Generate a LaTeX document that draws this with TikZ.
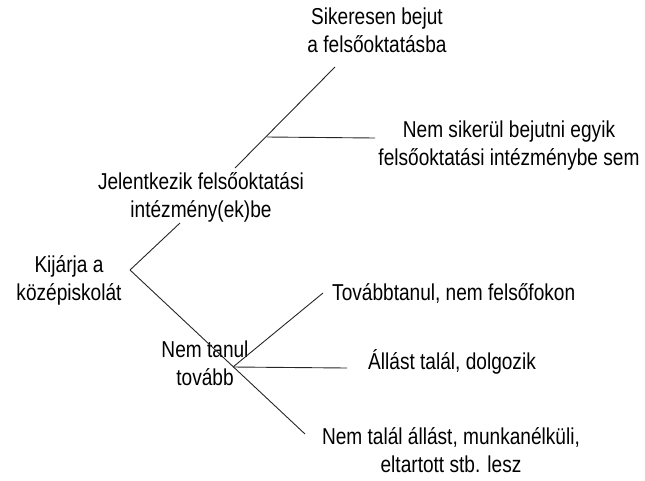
\documentclass[tikz,border=0pt]{standalone}
\usepackage{fontspec}
\setmainfont{Liberation Sans}[FakeStretch=0.83]
\begin{document}
\begin{tikzpicture}[x=1pt,y=-1pt,
	felirat/.style={align=center,inner sep=0pt,font=\fontsize{23}{28}\selectfont},
	ag/.style={line width=0.9pt,black!85}]

	\useasboundingbox (0,0) rectangle (645,480);

	\node[felirat] (kijarja) at (69,280) {Kijárja a\\középiskolát};
	\node[felirat] (jelentkezik) at (201,197) {Jelentkezik felsőoktatási\\intézmény(ek)be};
	\node[felirat] (sikeresen) at (377,30) {Sikeresen bejut\\a felsőoktatásba};
	\node[felirat] (nemsikerul) at (509,146) {Nem sikerül bejutni egyik\\felsőoktatási intézménybe sem};
	\node[felirat] (nemtanul) at (205,363) {Nem tanul\\tovább};
	\node[felirat,anchor=west] (tovabbtanul) at (332,293) {Továbbtanul, nem felsőfokon};
	\node[felirat,anchor=west] (allast) at (368,362) {Állást talál, dolgozik};
	\node[felirat] (nemtalal) at (451,450) {Nem talál állást, munkanélküli,\\eltartott stb. lesz};

	\coordinate (gyoker) at (130,270);
	\coordinate (jelalul) at (180,223);
	\coordinate (jelfelul) at (235,168);
	\coordinate (sikervege) at (335,67);
	\coordinate (elagfent) at (267,137);
	\coordinate (nemsikervege) at (375,138);
	\coordinate (elaglent) at (233,367);
	\coordinate (tovabbvege) at (323,293);
	\coordinate (allastvege) at (347,368);
	\coordinate (nemtalalvege) at (305,434);

	\draw[ag] (gyoker) -- (jelalul);
	\draw[ag] (jelfelul) -- (sikervege);
	\draw[ag] (elagfent) -- (nemsikervege);
	\draw[ag] (gyoker) -- (nemtalalvege);
	\draw[ag] (elaglent) -- (tovabbvege);
	\draw[ag] (elaglent) -- (allastvege);

\end{tikzpicture}
\end{document}
